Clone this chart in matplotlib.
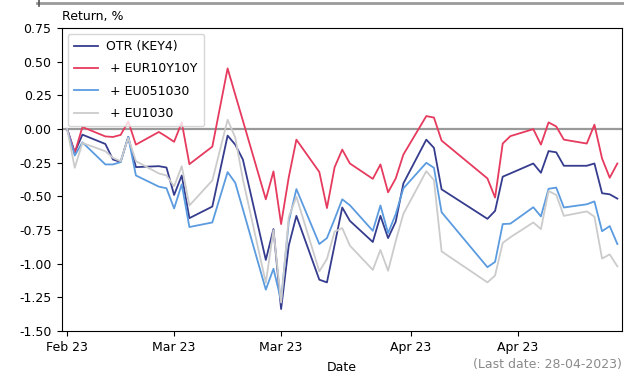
import pandas as pd
import matplotlib
matplotlib.use("Agg")
import matplotlib.pyplot as plt
import matplotlib.dates as mdates
from matplotlib.lines import Line2D

dates = [
    "2023-02-15", "2023-02-16", "2023-02-17", "2023-02-20", "2023-02-21",
    "2023-02-22", "2023-02-23", "2023-02-24", "2023-02-27", "2023-02-28",
    "2023-03-01", "2023-03-02", "2023-03-03", "2023-03-06", "2023-03-08",
    "2023-03-09", "2023-03-10", "2023-03-13", "2023-03-14", "2023-03-15",
    "2023-03-16", "2023-03-17", "2023-03-20", "2023-03-21", "2023-03-22",
    "2023-03-23", "2023-03-24", "2023-03-27", "2023-03-28", "2023-03-29",
    "2023-03-30", "2023-03-31", "2023-04-03", "2023-04-04", "2023-04-05",
    "2023-04-11", "2023-04-12", "2023-04-13", "2023-04-14", "2023-04-17",
    "2023-04-18", "2023-04-19", "2023-04-20", "2023-04-21", "2023-04-24",
    "2023-04-25", "2023-04-26", "2023-04-27", "2023-04-28",
]

otr_key4 = [
    0.000, -0.173, -0.042, -0.111, -0.227, -0.244, -0.059, -0.283, -0.276, -0.286,
    -0.490, -0.345, -0.662, -0.576, -0.049, -0.116, -0.227, -0.972, -0.743, -1.337,
    -0.866, -0.645, -1.119, -1.139, -0.861, -0.583, -0.682, -0.839, -0.645, -0.810,
    -0.688, -0.404, -0.079, -0.140, -0.448, -0.667, -0.608, -0.354, -0.330, -0.256,
    -0.325, -0.164, -0.173, -0.273, -0.273, -0.256, -0.477, -0.485, -0.517,
]

eur10y10y = [
    0.000, -0.177, 0.015, -0.055, -0.059, -0.044, 0.056, -0.116, -0.022, -0.057,
    -0.095, 0.049, -0.261, -0.131, 0.450, 0.255, 0.062, -0.522, -0.315, -0.706,
    -0.359, -0.079, -0.319, -0.587, -0.284, -0.153, -0.256, -0.370, -0.263, -0.470,
    -0.367, -0.190, 0.096, 0.085, -0.086, -0.367, -0.509, -0.108, -0.053, -0.001,
    -0.116, 0.049, 0.019, -0.079, -0.108, 0.032, -0.219, -0.362, -0.256,
]

eu051030 = [
    0.000, -0.197, -0.099, -0.263, -0.263, -0.246, -0.059, -0.345, -0.428, -0.440,
    -0.590, -0.411, -0.728, -0.694, -0.320, -0.399, -0.596, -1.193, -1.038, -1.275,
    -0.688, -0.446, -0.854, -0.810, -0.669, -0.522, -0.566, -0.756, -0.568, -0.773,
    -0.632, -0.441, -0.251, -0.288, -0.618, -1.026, -0.987, -0.706, -0.703, -0.581,
    -0.649, -0.444, -0.435, -0.583, -0.559, -0.538, -0.759, -0.721, -0.854,
]

eu1030 = [
    0.000, -0.288, -0.103, -0.165, -0.214, -0.239, -0.066, -0.239, -0.330, -0.345,
    -0.426, -0.276, -0.568, -0.382, 0.069, -0.064, -0.374, -1.142, -0.751, -1.289,
    -0.655, -0.503, -1.057, -0.965, -0.762, -0.736, -0.866, -1.046, -0.898, -1.053,
    -0.832, -0.630, -0.313, -0.380, -0.909, -1.139, -1.088, -0.846, -0.804, -0.694,
    -0.743, -0.461, -0.489, -0.645, -0.612, -0.651, -0.962, -0.931, -1.020,
]

returns = pd.DataFrame(
    {
        "OTR (KEY4)": otr_key4,
        " + EUR10Y10Y": eur10y10y,
        " + EU051030": eu051030,
        " + EU1030": eu1030,
    },
    index=pd.to_datetime(dates),
)
colors = ["#353c8e", "#e63a5e", "#5b9be0", "#cbcbcb"]

plt.rcParams["font.size"] = 9

fig = plt.figure(figsize=(6.24, 3.76), dpi=100)
ax = fig.add_axes([0.0994, 0.1197, 0.8976, 0.8058])

ax.axhline(0, color="#9a9a9a", linewidth=1.6, zorder=1)
for col, c in zip(returns.columns, colors):
    ax.plot(returns.index, returns[col], color=c, linewidth=1.3, label=col, zorder=2)

ax.set_ylim(-1.5, 0.75)
ax.set_yticks([-1.5, -1.25, -1.0, -0.75, -0.5, -0.25, 0.0, 0.25, 0.5, 0.75])
ax.yaxis.set_major_formatter(plt.FormatStrFormatter("%.2f"))
ax.set_xlim(returns.index[0] - pd.Timedelta(hours=16),
            returns.index[-1] + pd.Timedelta(hours=15))
ax.xaxis.set_major_locator(mdates.DayLocator(bymonthday=[1, 15]))
ax.xaxis.set_major_formatter(mdates.DateFormatter("%b %y"))

ax.set_title("Return, %", loc="left", fontsize=9, pad=6)
ax.set_xlabel("Date", fontsize=9, labelpad=5)
ax.tick_params(labelsize=9, pad=4)
ax.legend(loc="upper left", fontsize=9, framealpha=0.8,
          borderaxespad=0.45, handlelength=1.9, handletextpad=0.7,
          labelspacing=0.75, borderpad=0.5)

fig.text(0.997, 0.012, "(Last date: 28-04-2023)", ha="right", va="bottom",
         fontsize=9, color="#8a8a8a")

# thin border strip along the top edge
fig.add_artist(Line2D([0.06, 1.0], [0.993, 0.993], color="#9a9a9a", linewidth=2.0))
fig.add_artist(Line2D([0.062, 0.062], [0.985, 1.0], color="#555555", linewidth=1.2))

fig.savefig("out.png", dpi=100)
